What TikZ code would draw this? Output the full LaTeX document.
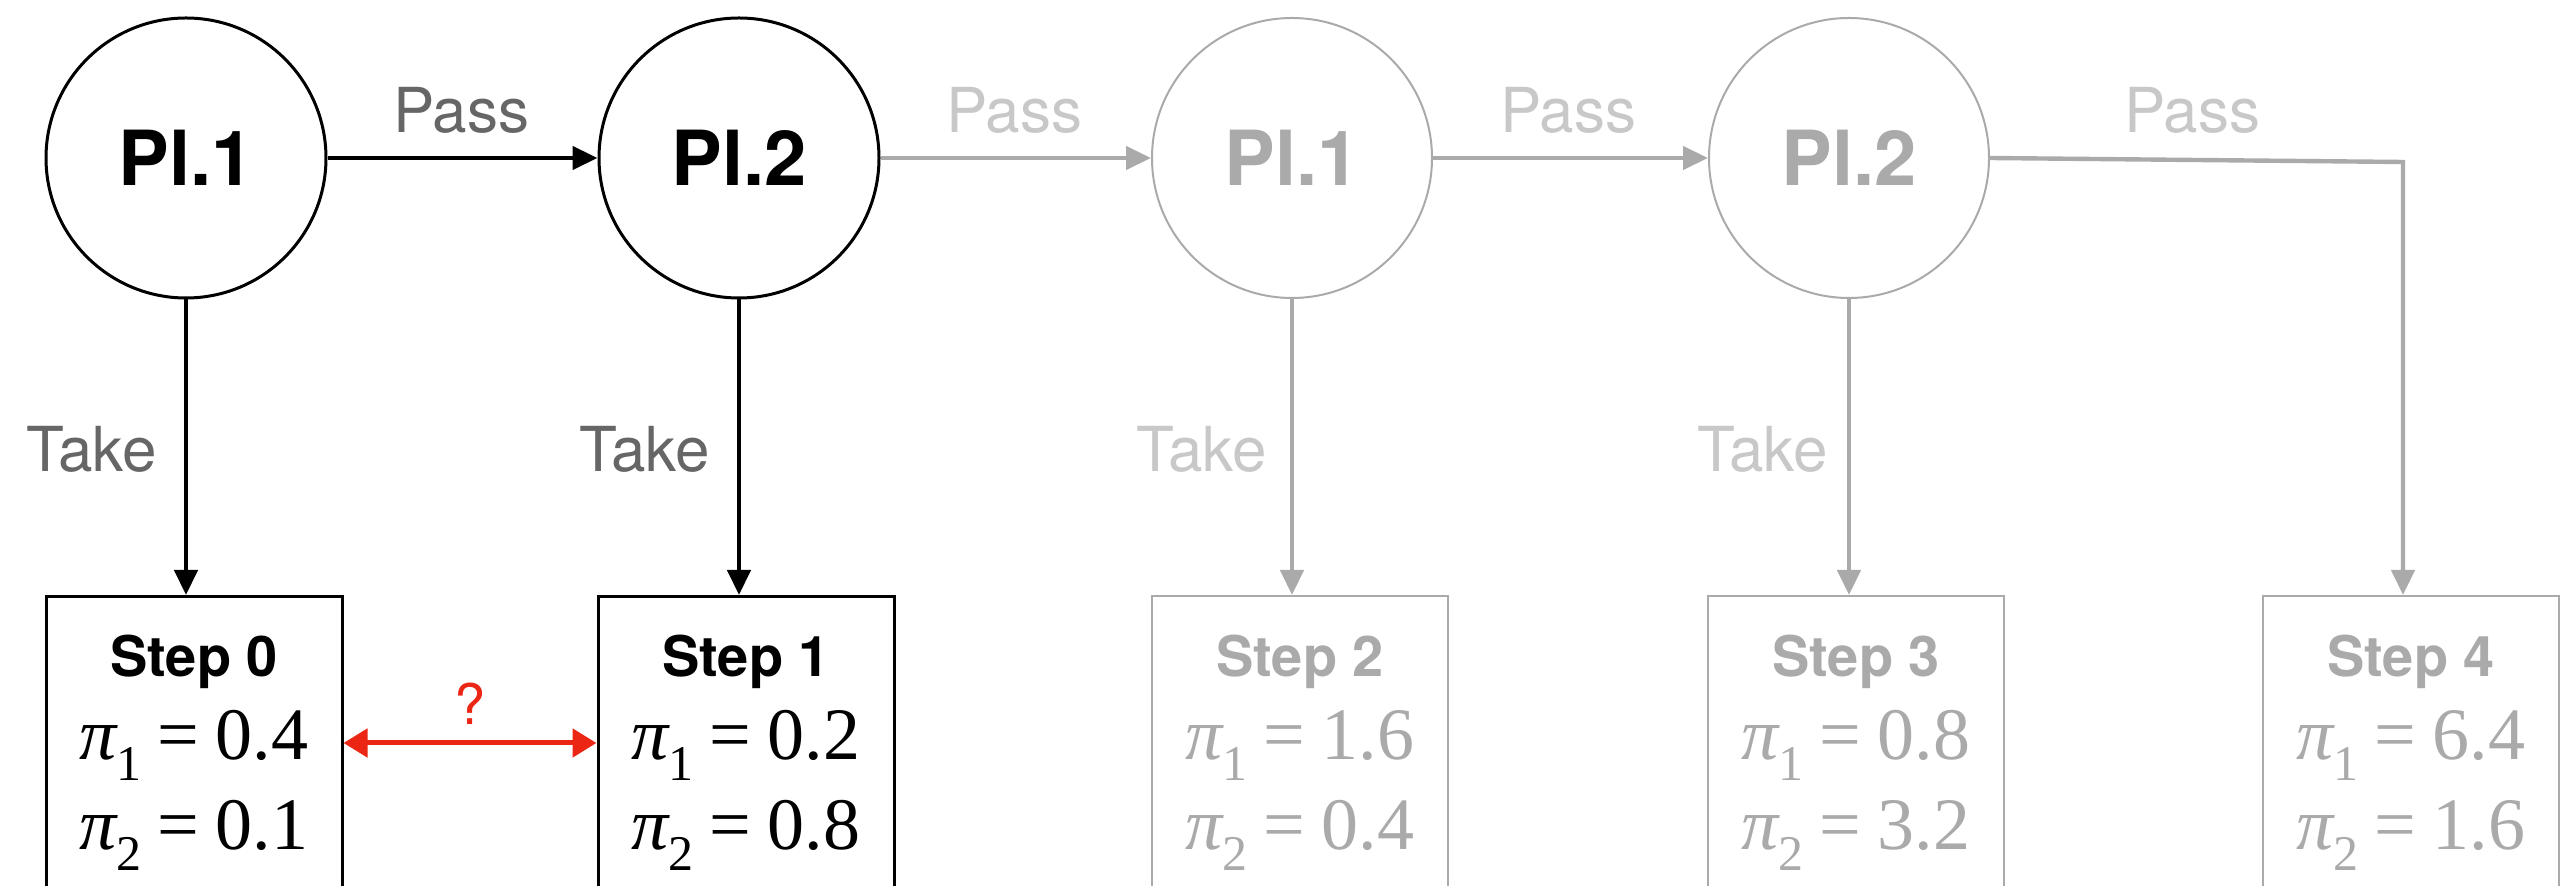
\documentclass[tikz,border=0pt]{standalone}
\usepackage{fontspec}
\setmainfont{TeX Gyre Heros}
\newfontfamily\tms{Liberation Serif}
\usetikzlibrary{arrows.meta}
\definecolor{fade}{HTML}{AAAAAA}
\definecolor{fadelbl}{HTML}{C8C8C8}
\definecolor{lbl}{HTML}{666666}
\definecolor{qred}{RGB}{235,38,20}
\newcommand\pline[2]{{\tms\fontsize{37}{37}\selectfont{\itshape π}\raisebox{-0.28em}{\fontsize{25}{25}\selectfont #1}\hspace{0.22em}=\hspace{0.22em}#2}}
\tikzset{
  x=0.5pt, y=-0.5pt,
  player/.style={circle, draw=black, line width=1.5pt, minimum size=140pt, inner sep=0pt, font=\bfseries\fontsize{38}{38}\selectfont},
  fplayer/.style={player, draw=fade, line width=1pt, text=fade},
  stepbox/.style={rectangle, draw=black, line width=1.5pt, minimum width=148pt, minimum height=170pt, anchor=north, inner sep=0pt},
  fstepbox/.style={stepbox, draw=fade, line width=1.1pt},
  steptxt/.style={anchor=base, font=\bfseries\fontsize{28}{28}\selectfont},
  mtxt/.style={anchor=base},
  arr/.style={draw=black, line width=2.2pt, -{Triangle[length=12.5pt,width=11.5pt]}},
  farr/.style={arr, draw=fade, -{Triangle[length=12.5pt,width=11.5pt,fill=fade]}},
  lab/.style={text=lbl, font=\fontsize{31}{31}\selectfont, anchor=base},
  flab/.style={lab, text=fadelbl},
  tlab/.style={lab, anchor=base east},
  ftlab/.style={flab, anchor=base east},
}
\begin{document}
\begin{tikzpicture}
\useasboundingbox (0,0) rectangle (2561,886);
\clip (0,0) rectangle (2561,886);
% players
\node[player] (c1) at (186,158) {Pl.1};
\node[player] (c2) at (739,158) {Pl.2};
\node[fplayer] (c3) at (1292,158) {Pl.1};
\node[fplayer] (c4) at (1849,158) {Pl.2};
% steps
\node[stepbox] (b1) at (194,595) {};
\node[stepbox] (b2) at (746,595) {};
\node[fstepbox] (b3) at (1300,595) {};
\node[fstepbox] (b4) at (1856,595) {};
\node[fstepbox] (b5) at (2411,595) {};
% step texts
\node[steptxt] (s1) at (194,677) {Step 0};
\node[mtxt] (p11) at (194,760) {\pline{1}{0.4}};
\node[mtxt] (p12) at (194,850) {\pline{2}{0.1}};
\node[steptxt] (s2) at (746,677) {Step 1};
\node[mtxt] (p21) at (746,760) {\pline{1}{0.2}};
\node[mtxt] (p22) at (746,850) {\pline{2}{0.8}};
\begin{scope}[every node/.append style={text=fade}]
\node[steptxt] (s3) at (1300,677) {Step 2};
\node[mtxt] (p31) at (1300,760) {\pline{1}{1.6}};
\node[mtxt] (p32) at (1300,850) {\pline{2}{0.4}};
\node[steptxt] (s4) at (1856,677) {Step 3};
\node[mtxt] (p41) at (1856,760) {\pline{1}{0.8}};
\node[mtxt] (p42) at (1856,850) {\pline{2}{3.2}};
\node[steptxt] (s5) at (2411,677) {Step 4};
\node[mtxt] (p51) at (2411,760) {\pline{1}{6.4}};
\node[mtxt] (p52) at (2411,850) {\pline{2}{1.6}};
\end{scope}
% pass arrows
\draw[arr] (c1) -- (c2);
\draw[farr] (c2) -- (c3);
\draw[farr] (c3) -- (c4);
\coordinate (k) at (2403,162);
\draw[farr] (c4.east) -- (k) -- (k |- b5.north);
% take arrows
\draw[arr] (c1.south) -- (c1.south |- b1.north);
\draw[arr] (c2.south) -- (c2.south |- b2.north);
\draw[farr] (c3.south) -- (c3.south |- b3.north);
\draw[farr] (c4.south) -- (c4.south |- b4.north);
% labels
\node[lab] (l1) at (461,133) {Pass};
\node[flab] (l2) at (1014,133) {Pass};
\node[flab] (l3) at (1568,133) {Pass};
\node[flab] (l4) at (2192,133) {Pass};
\node[tlab] (t1) at (164,472) {Take};
\node[tlab] (t2) at (717,472) {Take};
\node[ftlab] (t3) at (1274,472) {Take};
\node[ftlab] (t4) at (1835,472) {Take};
% red comparison
\draw[draw=qred, line width=2.5pt, {Triangle[length=12pt,width=14pt]}-{Triangle[length=12pt,width=14pt]}] (b1.east |- 0,743) -- (b2.west |- 0,743);
\node[anchor=base, text=qred, font=\fontsize{28}{28}\selectfont] (q) at (470,725) {?};
\end{tikzpicture}
\end{document}
